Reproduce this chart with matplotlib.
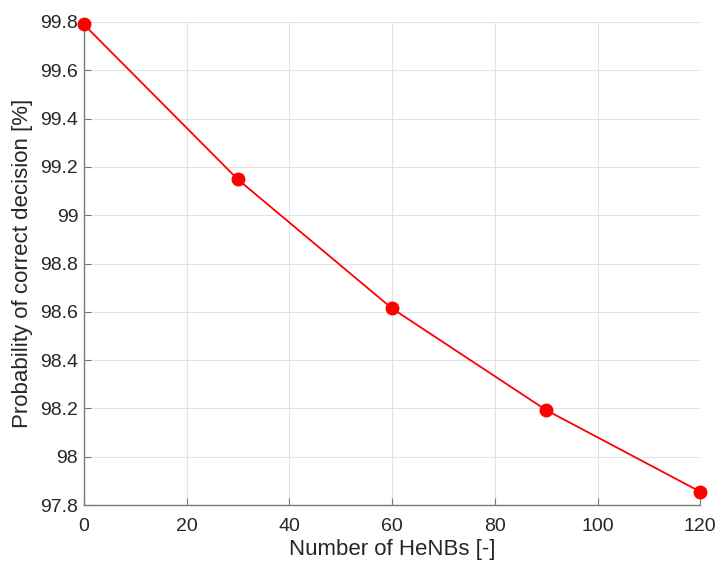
import matplotlib
matplotlib.use('Agg')
import matplotlib.pyplot as plt

matplotlib.rcParams['font.family'] = ['Liberation Sans', 'DejaVu Sans']

# data
henbs = [0, 30, 60, 90, 120]
p_correct = [99.79, 99.148, 98.614, 98.193, 97.855]

fig = plt.figure(figsize=(7.16, 5.61), dpi=100)
ax = fig.add_axes([0.117, 0.0998, 0.861, 0.861])

ax.plot(henbs, p_correct, color='#ff0000', linewidth=1.3, marker='o',
        markersize=9, markerfacecolor='#ff0000', markeredgecolor='#ff0000',
        clip_on=False, zorder=3)

ax.set_xlim(0, 120)
ax.set_ylim(97.8, 99.8)
ax.set_xticks(range(0, 121, 20))
ax.set_yticks([97.8, 98.0, 98.2, 98.4, 98.6, 98.8, 99.0, 99.2, 99.4, 99.6, 99.8])
ax.set_yticklabels(['97.8', '98', '98.2', '98.4', '98.6', '98.8', '99',
                    '99.2', '99.4', '99.6', '99.8'])

ax.grid(True, color='#e3e3e3', linewidth=0.8)
ax.set_axisbelow(True)

for side in ['top', 'right']:
    ax.spines[side].set_visible(False)
for side in ['left', 'bottom']:
    ax.spines[side].set_color('#7a7a7a')
    ax.spines[side].set_linewidth(1.0)

ax.tick_params(direction='in', length=5, color='#7a7a7a',
               labelsize=14, labelcolor='#262626')
ax.tick_params(axis='y', pad=4)
ax.tick_params(axis='x', pad=9)

ax.set_xlabel('Number of HeNBs [-]', fontsize=16, color='#262626', labelpad=3)
ax.set_ylabel('Probability of correct decision [%]', fontsize=16,
              color='#262626', labelpad=5)

plt.savefig('out.png', dpi=100, facecolor='white')
plt.close()
